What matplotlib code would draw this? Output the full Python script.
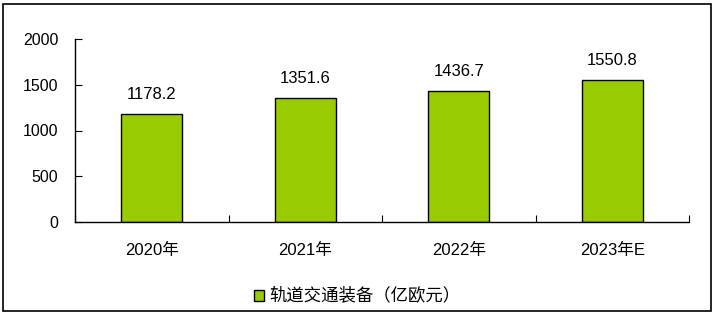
import matplotlib
matplotlib.use('Agg')
from matplotlib import pyplot as plt
from matplotlib.patches import Rectangle
import numpy as np

plt.rcParams['font.family'] = ['Liberation Sans', 'Noto Sans CJK SC']

# data
years = ['2020年', '2021年', '2022年', '2023年E']
values = [1178.2, 1351.6, 1436.7, 1550.8]
series_name = '轨道交通装备（亿欧元）'

W, H = 717, 315
fig = plt.figure(figsize=(W / 100, H / 100), dpi=100)
ax = fig.add_axes([75 / W, 1 - 222 / H, (689 - 75) / W, (222 - 39) / H])

x = np.arange(len(years))
bars = ax.bar(x, values, width=0.4, color='#99CC00', edgecolor='black',
              linewidth=1, label=series_name)

for xi, v in zip(x, values):
    ax.text(xi, v + 130, f'{v:.1f}', ha='center', va='bottom', fontsize=12)

ax.set_xlim(-0.5, len(years) - 0.5)
ax.set_ylim(0, 2000)
ax.set_yticks([0, 500, 1000, 1500, 2000])
ax.tick_params(axis='y', direction='in', length=5, labelsize=11.5, pad=12)

# category labels between divider ticks
ax.set_xticks(np.arange(len(years) + 1) - 0.5)
ax.set_xticklabels([])
ax.tick_params(axis='x', direction='in', length=5)
ax.set_xticks(x, minor=True)
ax.set_xticklabels(years, minor=True, fontsize=12)
ax.tick_params(axis='x', which='minor', length=0, pad=15)

for s in ['top', 'right']:
    ax.spines[s].set_visible(False)
for s in ['left', 'bottom']:
    ax.spines[s].set_linewidth(1)

leg = fig.legend(handles=[bars], labels=[series_name], loc='center',
                 bbox_to_anchor=(357 / W, 1 - 296 / H), frameon=False,
                 fontsize=12.5, handlelength=0.6, handleheight=0.6,
                 handletextpad=0.3)

# outer border
fig.patches.append(Rectangle((2.5 / W, 1 - 311 / H), 708 / W, 307 / H,
                             transform=fig.transFigure, fill=False,
                             edgecolor='black', linewidth=1.2))

fig.savefig('out.png', dpi=100)
